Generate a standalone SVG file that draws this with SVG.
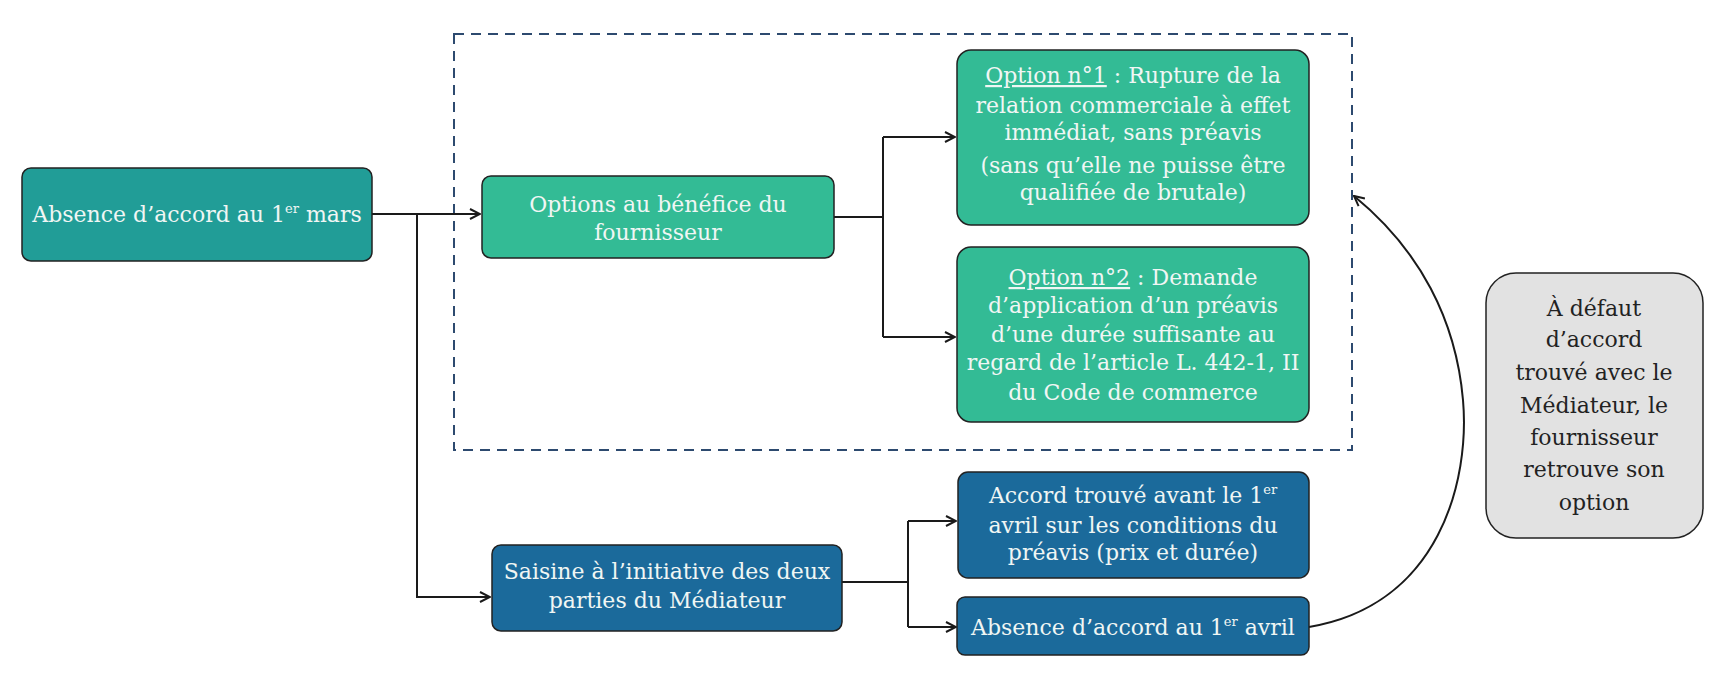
<svg xmlns="http://www.w3.org/2000/svg" width="1734" height="684" viewBox="0 0 1734 684">
<defs>
<style>
.t{font-family:"DejaVu Serif","Liberation Serif",serif;font-size:22px;fill:#f0f6f4;text-anchor:middle}
.d{fill:#222}
.box{stroke:#222;stroke-width:1.5}
.teal{fill:#219d97}
.green{fill:#33bb95}
.blue{fill:#1b6a9b}
.gray{fill:#e2e2e2}
.c{fill:none;stroke:#1a1a1a;stroke-width:2}
.sup{font-size:13px}
</style>
<marker id="ah" viewBox="0 0 12 12" refX="11" refY="6" markerWidth="12" markerHeight="12" markerUnits="userSpaceOnUse" orient="auto">
<path d="M1,1 L11,6 L1,11" fill="none" stroke="#1a1a1a" stroke-width="2"/>
</marker>
</defs>
<rect width="1734" height="684" fill="#fff"/>
<g id="frame">
<rect x="454" y="34" width="898" height="416" fill="none" stroke="#2d4a6f" stroke-width="2" stroke-dasharray="10,7"/>
</g>
<g id="connectors">
<path class="c" d="M372,214 H480" marker-end="url(#ah)"/>
<path class="c" d="M417,214 V597 H490" marker-end="url(#ah)"/>
<path class="c" d="M834,217 H883"/>
<path class="c" d="M883,137 V337"/>
<path class="c" d="M883,137 H955" marker-end="url(#ah)"/>
<path class="c" d="M883,337 H955" marker-end="url(#ah)"/>
<path class="c" d="M842,582 H908"/>
<path class="c" d="M908,521 V627"/>
<path class="c" d="M908,521 H956" marker-end="url(#ah)"/>
<path class="c" d="M908,627 H956" marker-end="url(#ah)"/>
<path class="c" d="M1309,627 C1440,605 1470,480 1463,400 C1456,320 1420,250 1354,196" marker-end="url(#ah)"/>
</g>
<g id="n1">
<rect class="box teal" x="22" y="168" width="350" height="93" rx="9"/>
<text class="t" x="197" y="222">Absence d’accord au 1<tspan class="sup" dy="-9">er</tspan><tspan dy="9"> mars</tspan></text>
</g>
<g id="n2">
<rect class="box green" x="482" y="176" width="352" height="82" rx="9"/>
<text class="t" x="658" y="212">Options au bénéfice du</text>
<text class="t" x="658" y="240">fournisseur</text>
</g>
<g id="n3">
<rect class="box green" x="957" y="50" width="352" height="175" rx="14"/>
<text class="t" x="1133" y="83"><tspan text-decoration="underline">Option n°1</tspan> : Rupture de la</text>
<text class="t" x="1133" y="113">relation commerciale à effet</text>
<text class="t" x="1133" y="140">immédiat, sans préavis</text>
<text class="t" x="1133" y="173">(sans qu’elle ne puisse être</text>
<text class="t" x="1133" y="200">qualifiée de brutale)</text>
</g>
<g id="n4">
<rect class="box green" x="957" y="247" width="352" height="175" rx="14"/>
<text class="t" x="1133" y="285"><tspan text-decoration="underline">Option n°2</tspan> : Demande</text>
<text class="t" x="1133" y="313">d’application d’un préavis</text>
<text class="t" x="1133" y="342">d’une durée suffisante au</text>
<text class="t" x="1133" y="370">regard de l’article L. 442-1, II</text>
<text class="t" x="1133" y="400">du Code de commerce</text>
</g>
<g id="n5">
<rect class="box blue" x="492" y="545" width="350" height="86" rx="9"/>
<text class="t" x="667" y="579">Saisine à l’initiative des deux</text>
<text class="t" x="667" y="608">parties du Médiateur</text>
</g>
<g id="n6">
<rect class="box blue" x="958" y="472" width="351" height="106" rx="10"/>
<text class="t" x="1133" y="503">Accord trouvé avant le 1<tspan class="sup" dy="-9">er</tspan></text>
<text class="t" x="1133" y="533">avril sur les conditions du</text>
<text class="t" x="1133" y="560">préavis (prix et durée)</text>
</g>
<g id="n7">
<rect class="box blue" x="957" y="597" width="352" height="58" rx="8"/>
<text class="t" x="1133" y="635">Absence d’accord au 1<tspan class="sup" dy="-9">er</tspan><tspan dy="9"> avril</tspan></text>
</g>
<g id="n8">
<rect class="box gray" x="1486" y="273" width="217" height="265" rx="30" stroke-width="2"/>
<text class="t d" x="1594" y="316">À défaut</text>
<text class="t d" x="1594" y="347">d’accord</text>
<text class="t d" x="1594" y="380">trouvé avec le</text>
<text class="t d" x="1594" y="413">Médiateur, le</text>
<text class="t d" x="1594" y="445">fournisseur</text>
<text class="t d" x="1594" y="477">retrouve son</text>
<text class="t d" x="1594" y="510">option</text>
</g>
</svg>
